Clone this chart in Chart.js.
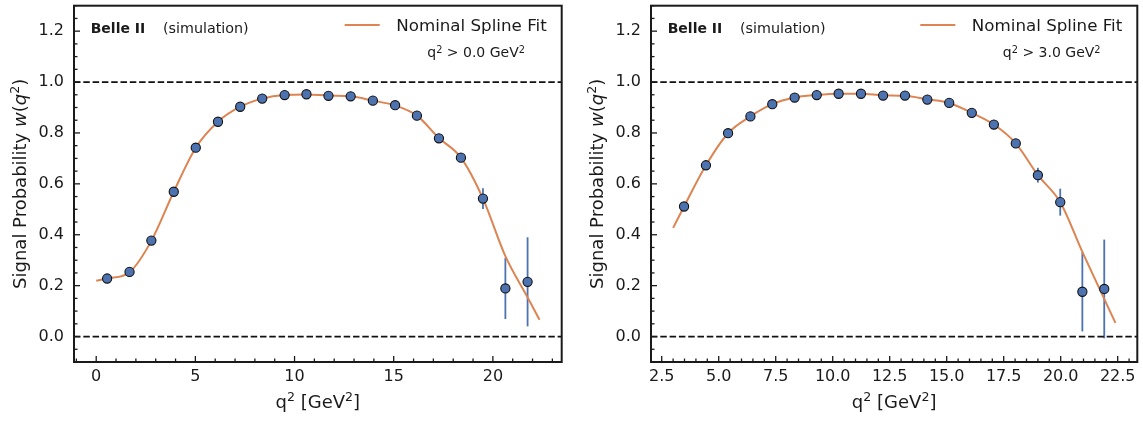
<!doctype html>
<html>

<head>
    <title>Signal Probability</title>
    <meta http-equiv="Content-Type" content="text/html;charset=UTF-8">
    <script src="https://cdn.jsdelivr.net/npm/chart.js@4.4.1/dist/chart.umd.min.js"></script>
    <style>
        body { margin: 0; background: #fff; }
        canvas { position: absolute; top: 0; }
        #esquerda { left: 0; }
        #direita { left: 572px; }
    </style>
</head>

<body>
    <canvas id="esquerda" width="572" height="421"></canvas>
    <canvas id="direita" width="571" height="421"></canvas>
</body>
<script>

    // painel esquerdo: q2 > 0.0 GeV2
    var q2_esq = [0.55, 1.68, 2.78, 3.91, 5.02, 6.14, 7.26, 8.37, 9.50, 10.60, 11.71, 12.83, 13.95, 15.07, 16.17, 17.28, 18.39, 19.50, 20.63, 21.75];
    var w_esq = [0.228, 0.254, 0.377, 0.569, 0.742, 0.844, 0.903, 0.935, 0.949, 0.952, 0.946, 0.944, 0.927, 0.909, 0.868, 0.779, 0.703, 0.542, 0.189, 0.215];
    var erro_esq = [0.004, 0.004, 0.005, 0.006, 0.006, 0.006, 0.006, 0.006, 0.006, 0.006, 0.006, 0.007, 0.007, 0.008, 0.009, 0.011, 0.014, 0.041, 0.120, 0.175];
    var spline_q2_esq = [0, 0.55, 1.68, 2.78, 3.91, 5.02, 6.14, 7.26, 8.37, 9.50, 10.60, 11.71, 12.83, 13.95, 15.07, 16.17, 17.28, 18.39, 19.50, 20.63, 21.75, 22.35];
    var spline_w_esq = [0.219, 0.228, 0.253, 0.376, 0.569, 0.742, 0.844, 0.903, 0.935, 0.949, 0.951, 0.947, 0.944, 0.927, 0.908, 0.868, 0.780, 0.703, 0.542, 0.316, 0.154, 0.066];
    var ticks_x_esq = [0, 5, 10, 15, 20];

    // painel direito: q2 > 3.0 GeV2
    var q2_dir = [3.48, 4.44, 5.41, 6.39, 7.35, 8.33, 9.30, 10.26, 11.24, 12.21, 13.17, 14.15, 15.11, 16.10, 17.07, 18.03, 19.00, 19.98, 20.95, 21.91];
    var w_dir = [0.511, 0.673, 0.799, 0.865, 0.913, 0.939, 0.949, 0.954, 0.954, 0.947, 0.947, 0.931, 0.918, 0.879, 0.833, 0.759, 0.634, 0.528, 0.176, 0.187];
    var erro_dir = [0.006, 0.006, 0.006, 0.006, 0.006, 0.006, 0.006, 0.006, 0.006, 0.006, 0.007, 0.007, 0.008, 0.009, 0.011, 0.014, 0.029, 0.053, 0.156, 0.194];
    var spline_q2_dir = [3.0, 3.48, 4.44, 5.41, 6.39, 7.35, 8.33, 9.30, 10.26, 11.24, 12.21, 13.17, 14.15, 15.11, 16.10, 17.07, 18.03, 19.00, 19.98, 20.95, 21.91, 22.40];
    var spline_w_dir = [0.427, 0.511, 0.673, 0.799, 0.865, 0.913, 0.939, 0.949, 0.954, 0.954, 0.948, 0.946, 0.932, 0.918, 0.879, 0.833, 0.759, 0.634, 0.528, 0.333, 0.148, 0.054];
    var ticks_x_dir = [2.5, 5, 7.5, 10, 12.5, 15, 17.5, 20, 22.5];

    var ticks_y = [0, 0.2, 0.4, 0.6, 0.8, 1.0, 1.2];

    var fonte = "'DejaVu Sans', sans-serif";
    var cor_texto = '#1a1a1a';
    var azul = '#4C72B0';
    var laranja = '#DD8452';

    // escreve pedacos de texto (fonte, subida) em sequencia
    function escreve(ctx, partes, x, y, alinhamento) {
        var largura = 0;
        partes.forEach(function (p) {
            ctx.font = p[1] + ' ' + fonte;
            largura += ctx.measureText(p[0]).width;
        });
        var x0 = x;
        if (alinhamento === 'right') x0 = x - largura;
        if (alinhamento === 'center') x0 = x - largura / 2;
        partes.forEach(function (p) {
            ctx.font = p[1] + ' ' + fonte;
            ctx.fillText(p[0], x0, y - (p[2] || 0));
            x0 += ctx.measureText(p[0]).width;
        });
    }

    function desenha_marcas(ctx, escala, principais, passo, ca, horizontal) {
        var k0 = Math.ceil(escala.min / passo - 1e-9);
        var k1 = Math.floor(escala.max / passo + 1e-9);
        for (var k = k0; k <= k1; k++) {
            var v = k * passo;
            var grande = principais.some(function (p) { return Math.abs(p - v) < 1e-6; });
            var tam = grande ? 6 : 3.5;
            var p = escala.getPixelForValue(v);
            ctx.beginPath();
            if (horizontal) {
                ctx.moveTo(p, ca.bottom);
                ctx.lineTo(p, ca.bottom - tam);
            } else {
                ctx.moveTo(ca.left, p);
                ctx.lineTo(ca.left + tam, p);
            }
            ctx.stroke();
        }
    }

    function plota_grafico(id, cfg) {
        var pontos = cfg.q2.map(function (q, i) { return { x: q, y: cfg.w[i] }; });
        var curva = cfg.spline_q2.map(function (q, i) { return { x: q, y: cfg.spline_w[i] }; });

        var moldura = {
            id: 'moldura',
            beforeDatasetsDraw: function (chart) {
                var ctx = chart.ctx, sx = chart.scales.x, sy = chart.scales.y;
                ctx.save();
                ctx.strokeStyle = azul;
                ctx.lineWidth = 1.8;
                cfg.q2.forEach(function (q, i) {
                    var px = sx.getPixelForValue(q);
                    ctx.beginPath();
                    ctx.moveTo(px, sy.getPixelForValue(cfg.w[i] - cfg.erro[i]));
                    ctx.lineTo(px, sy.getPixelForValue(cfg.w[i] + cfg.erro[i]));
                    ctx.stroke();
                });
                ctx.restore();
            },
            afterDraw: function (chart) {
                var ctx = chart.ctx, ca = chart.chartArea;
                ctx.save();
                ctx.strokeStyle = cor_texto;
                ctx.lineWidth = 1.3;
                desenha_marcas(ctx, chart.scales.x, cfg.ticks_x, cfg.passo_x, ca, true);
                desenha_marcas(ctx, chart.scales.y, ticks_y, 0.05, ca, false);
                ctx.lineWidth = 2;
                ctx.strokeRect(ca.left, ca.top, ca.right - ca.left, ca.bottom - ca.top);

                ctx.fillStyle = cor_texto;
                ctx.textAlign = 'left';
                ctx.textBaseline = 'alphabetic';
                escreve(ctx, [['Belle II', 'bold 14px']], ca.left + 16.7, 33);
                escreve(ctx, [['(simulation)', '14.3px']], ca.left + 89, 33);

                ctx.strokeStyle = laranja;
                ctx.lineWidth = 2;
                ctx.beginPath();
                ctx.moveTo(ca.right - 217, 25);
                ctx.lineTo(ca.right - 182, 25);
                ctx.stroke();
                escreve(ctx, [['Nominal Spline Fit', '16.7px']], ca.right - 15, 31, 'right');
                escreve(ctx, [['q', '14px'], ['2', '9.8px', 4.5], [' > ' + cfg.corte + ' GeV', '14px'], ['2', '9.8px', 4.5]], ca.right - 36.7, 57, 'right');

                escreve(ctx, [['q', '18px'], ['2', '12.6px', 7.5], [' [GeV', '18px'], ['2', '12.6px', 7.5], [']', '18px']],
                    (ca.left + ca.right) / 2, 408, 'center');

                ctx.translate(ca.left - 48, (ca.top + ca.bottom) / 2);
                ctx.rotate(-Math.PI / 2);
                escreve(ctx, [['Signal Probability ', '18px'], ['w', 'italic 18px'], ['(', '18px'], ['q', 'italic 18px'], ['2', '12.6px', 7.5], [')', '18px']],
                    0, 0, 'center');
                ctx.restore();
            }
        };

        new Chart(document.getElementById(id), {
            type: 'line',
            data: {
                datasets: [
                    {
                        label: 'pontos',
                        data: pontos,
                        showLine: false,
                        pointRadius: 4.6,
                        pointBackgroundColor: azul,
                        pointBorderColor: '#111',
                        pointBorderWidth: 1.1,
                        order: 0
                    },
                    {
                        label: 'Nominal Spline Fit',
                        data: curva,
                        borderColor: laranja,
                        borderWidth: 2,
                        pointRadius: 0,
                        cubicInterpolationMode: 'monotone',
                        fill: false,
                        order: 1
                    },
                    {
                        label: 'um',
                        data: [{ x: cfg.x_min, y: 1 }, { x: cfg.x_max, y: 1 }],
                        borderColor: '#111',
                        borderWidth: 1.8,
                        borderDash: [6.5, 2.8],
                        pointRadius: 0,
                        order: 2
                    },
                    {
                        label: 'zero',
                        data: [{ x: cfg.x_min, y: 0 }, { x: cfg.x_max, y: 0 }],
                        borderColor: '#111',
                        borderWidth: 1.8,
                        borderDash: [6.5, 2.8],
                        pointRadius: 0,
                        order: 2
                    }
                ]
            },
            options: {
                responsive: false,
                animation: false,
                devicePixelRatio: 1,
                events: [],
                layout: { padding: { top: 3, right: cfg.pad_dir, left: 0, bottom: 0 } },
                plugins: { legend: { display: false }, tooltip: { enabled: false } },
                scales: {
                    x: {
                        type: 'linear',
                        min: cfg.x_min,
                        max: cfg.x_max,
                        grid: { display: false, drawTicks: false },
                        border: { display: false },
                        afterBuildTicks: function (s) { s.ticks = cfg.ticks_x.map(function (v) { return { value: v }; }); },
                        afterFit: function (s) { s.height = 59; s.paddingLeft = 0; s.paddingRight = 0; },
                        ticks: {
                            autoSkip: false,
                            maxRotation: 0,
                            padding: 5,
                            color: cor_texto,
                            font: { family: 'DejaVu Sans', size: 16 },
                            callback: function (v) { return v.toFixed(cfg.casas_x); }
                        }
                    },
                    y: {
                        min: -0.1,
                        max: 1.3,
                        grid: { display: false, drawTicks: false },
                        border: { display: false },
                        afterBuildTicks: function (s) { s.ticks = ticks_y.map(function (v) { return { value: v }; }); },
                        afterFit: function (s) { s.width = cfg.y_larg; s.paddingTop = 0; s.paddingBottom = 0; },
                        ticks: {
                            padding: 10,
                            color: cor_texto,
                            font: { family: 'DejaVu Sans', size: 16 },
                            callback: function (v) { return v.toFixed(1); }
                        }
                    }
                }
            },
            plugins: [moldura]
        });
    }

    plota_grafico('esquerda', {
        q2: q2_esq, w: w_esq, erro: erro_esq,
        spline_q2: spline_q2_esq, spline_w: spline_w_esq,
        ticks_x: ticks_x_esq, passo_x: 1, casas_x: 0,
        x_min: -1.12, x_max: 23.47, y_larg: 74, pad_dir: 10.3, corte: '0.0'
    });

    plota_grafico('direita', {
        q2: q2_dir, w: w_dir, erro: erro_dir,
        spline_q2: spline_q2_dir, spline_w: spline_w_dir,
        ticks_x: ticks_x_dir, passo_x: 0.5, casas_x: 1,
        x_min: 2.03, x_max: 23.36, y_larg: 79, pad_dir: 5.3, corte: '3.0'
    });
</script>

</html>
